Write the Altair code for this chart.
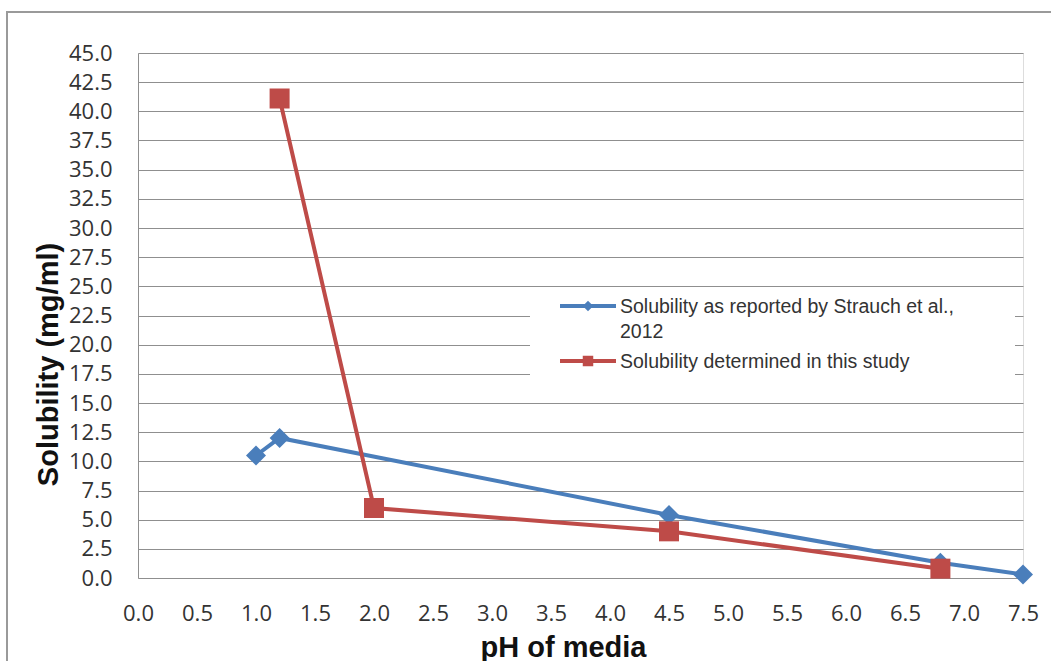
import altair as alt
import pandas as pd

# Data
ph_strauch = [1.0, 1.2, 4.5, 6.8, 7.5]
sol_strauch = [10.5, 12.0, 5.4, 1.3, 0.3]
ph_study = [1.2, 2.0, 4.5, 6.8]
sol_study = [41.1, 6.0, 4.0, 0.8]
series_names = ["Solubility as reported by Strauch et al., 2012",
                "Solubility determined in this study"]
legend_lines = [["Solubility as reported by Strauch et al.,", "2012"],
                ["Solubility determined in this study"]]
colors = ["#4a7ebb", "#be4b48"]
shapes = ["diamond", "square"]
x_ticks = [i * 0.5 for i in range(16)]
y_ticks = [i * 2.5 for i in range(19)]

df = pd.DataFrame(
    [{"ph": p, "sol": s, "series": series_names[0]} for p, s in zip(ph_strauch, sol_strauch)]
    + [{"ph": p, "sol": s, "series": series_names[1]} for p, s in zip(ph_study, sol_study)]
)

W, H = 885, 525

x = alt.X("ph:Q", scale=alt.Scale(domain=[0, 7.5], nice=False),
          axis=alt.Axis(values=x_ticks, format=".1f", grid=False, domain=False, ticks=False,
                        labelFlush=False, labelOverlap=False,
                        labelFont="Open Sans", labelFontSize=22, labelColor="#333333",
                        labelPadding=25, title="pH of media", titleFont="Liberation Sans",
                        titleFontSize=29, titleFontWeight="bold", titleColor="#111111",
                        titleX=425, titleY=69, titleBaseline="middle"))
y = alt.Y("sol:Q", scale=alt.Scale(domain=[0, 45], nice=False),
          axis=alt.Axis(values=y_ticks, format=".1f", grid=True, gridColor="#8f8f8f",
                        gridWidth=1.2, domain=True, domainColor="#8f8f8f", ticks=False,
                        labelFlush=False, labelOverlap=False,
                        labelFont="Open Sans", labelFontSize=22, labelColor="#333333",
                        labelPadding=26, title="Solubility (mg/ml)", titleFont="Liberation Sans",
                        titleFontSize=29, titleFontWeight="bold", titleColor="#111111",
                        titleX=-90, titleY=311, titleAngle=-90, titleAlign="center",
                        titleBaseline="middle"))
color = alt.Color("series:N", scale=alt.Scale(domain=series_names, range=colors), legend=None)
shape = alt.Shape("series:N", scale=alt.Scale(domain=series_names, range=shapes), legend=None)

lines = alt.Chart(df).mark_line(strokeWidth=4).encode(x=x, y=y, color=color, detail="series:N")
pts_blue = alt.Chart(df[df.series == series_names[0]]).mark_point(
    filled=True, opacity=1, size=400, shape="diamond").encode(x=x, y=y, color=color)
pts_red = alt.Chart(df[df.series == series_names[1]]).mark_point(
    filled=True, opacity=1, size=400, shape="square").encode(x=x, y=y, color=color)

# Legend (drawn manually inside the plot)
leg_df = pd.DataFrame({"series": series_names, "label": legend_lines,
                       "ypix": [253, 308]})
leg_bg = alt.Chart(pd.DataFrame({"a": [0]})).mark_rect(fill="white").encode(
    x=alt.value(392), x2=alt.value(877), y=alt.value(237), y2=alt.value(330))
leg_rule = alt.Chart(leg_df).mark_rule(strokeWidth=4).encode(
    x=alt.value(422), x2=alt.value(478), y=alt.Y("ypix:Q", scale=None), color=color)
leg_pt = alt.Chart(leg_df).mark_point(filled=True, opacity=1, size=110).encode(
    x=alt.value(450), y=alt.Y("ypix:Q", scale=None), color=color, shape=shape)
leg_txt = alt.Chart(leg_df).mark_text(
    align="left", baseline="middle", font="Liberation Sans", fontSize=19.5,
    color="#333333", lineHeight=25, dy=1).encode(
    x=alt.value(482), y=alt.Y("ypix:Q", scale=None), text="label")

frame = alt.Chart(pd.DataFrame({"a": [0]})).mark_rect(
    fill=None, stroke="#9a9a9a", strokeWidth=2).encode(
    x=alt.value(-131), x2=alt.value(960), y=alt.value(-41), y2=alt.value(700))

chart = alt.layer(frame, lines, pts_blue, pts_red, leg_bg, leg_rule, leg_pt, leg_txt).properties(
    width=W, height=H,
    autosize=alt.AutoSizeParams(type="none"),
    padding={"left": 138, "top": 53, "right": 1051 - 138 - W, "bottom": 661 - 53 - H},
).configure_view(stroke=None).configure(background="white")

chart.save("out.html", embed_options={"renderer": "svg", "actions": False})
